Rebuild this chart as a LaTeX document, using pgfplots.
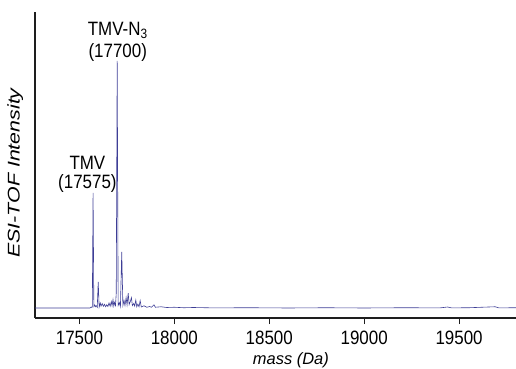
\documentclass[border=0pt]{standalone}
\usepackage{fontspec}
\setmainfont{Liberation Sans}
\usepackage{pgfplots}
\pgfplotsset{compat=1.18}
\definecolor{specblue}{RGB}{62,62,150}
\definecolor{axgray}{RGB}{30,30,30}
\newcommand{\vs}[1]{\scalebox{1}[1.14]{#1}}
\begin{document}
\fontsize{17}{20}\selectfont
\begin{tikzpicture}
\begin{axis}[
  scale only axis,
  width=481bp, height=306bp,
  xmin=17266, xmax=19800,
  ymin=-4.05, ymax=119.8,
  axis lines*=left,
  axis line style={axgray, line width=1.2bp},
  scaled x ticks=false,
  xtick={17500,18000,18500,19000,19500},
  xticklabels={\vs{17500},\vs{18000},\vs{18500},\vs{19000},\vs{19500}},
  ytick=\empty,
  tick style={axgray, line width=1bp},
  xtick align=outside,
  major tick length=6bp,
  xticklabel style={font=\fontsize{17}{20}\selectfont, inner sep=1bp, yshift=-6bp},
  xlabel={\itshape mass (Da)},
  ylabel={\scalebox{1.26}[1]{\itshape ESI-TOF Intensity}},
  xlabel style={font=\fontsize{16.5}{19}\selectfont, at={(axis description cs:0.532,0)}, anchor=north, yshift=-34bp, inner sep=0bp},
  ylabel style={font=\fontsize{17}{20}\selectfont, at={(axis description cs:0,0.474)}, anchor=south, yshift=6bp},
  clip=false,
]
\addplot[specblue, line width=0.6bp] coordinates {
(17266,0) (17555,0) (17562,0.4) (17566,0.2) (17568,0.6) (17572,46.6) (17576,0.6)
(17580,1.2) (17584,0.5) (17588,1.0) (17594,0.3) (17599,10.6) (17604,0.4)
(17610,2.0) (17614,0.8) (17620,1.8) (17626,0.7) (17632,1.5) (17638,0.5)
(17644,1.3) (17650,0.6) (17656,2.0) (17662,0.7) (17668,2.6) (17672,0.9)
(17677,3.4) (17681,0.8) (17685,2.2) (17690,1.0) (17694,6.0) (17699,100)
(17704,1.0) (17710,2.2) (17716,0.5) (17723,22.7) (17729,1.0) (17735,3.0)
(17740,1.0) (17746,4.2) (17751,1.2) (17757,6.0) (17762,1.4) (17768,2.6)
(17774,4.2) (17779,1.0) (17786,1.8) (17791,0.8) (17797,3.2) (17802,0.5)
(17808,1.6) (17814,0.5) (17820,3.0) (17826,0.4) (17840,0.9) (17855,0.3)
(17870,0.6) (17880,0.3) (17893,1.3) (17900,0.3) (17930,0.5) (17960,0.2)
(18000,0.3) (18050,0.1) (18100,0.2) (18200,0.05) (18400,0.1) (18600,0.0)
(18800,0.1) (19000,0.0) (19200,0.1) (19400,0.05) (19440,0.4) (19460,0.05)
(19550,0.1) (19690,0.5) (19710,0.05) (19800,0.1)
};
\node[anchor=base, font=\fontsize{17}{20}\selectfont] at (axis cs:17542,55.9) {\vs{TMV}};
\node[anchor=base, font=\fontsize{17}{20}\selectfont] at (axis cs:17542,48.4) {\vs{(17575)}};
\node[anchor=base, font=\fontsize{17}{20}\selectfont] at (axis cs:17702,110.3) {\vs{TMV-N\textsubscript{3}}};
\node[anchor=base, font=\fontsize{17}{20}\selectfont] at (axis cs:17702,101.2) {\vs{(17700)}};
\end{axis}
\pgfresetboundingbox
\path (-35bp,-51bp) rectangle (481bp,318bp);
\end{tikzpicture}
\end{document}
